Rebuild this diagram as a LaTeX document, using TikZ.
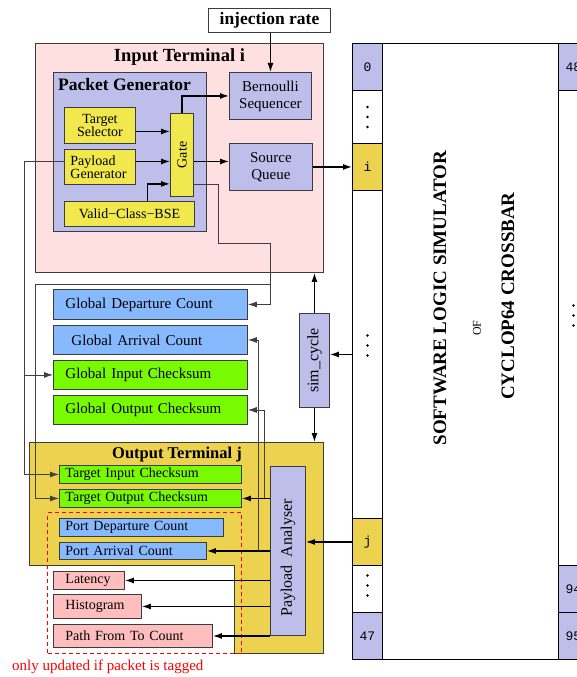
\documentclass[tikz,border=0pt]{standalone}
\usepackage{fontspec}
\setmainfont{Liberation Serif}
\setmonofont{Liberation Mono}
\usepackage{graphicx}
\usetikzlibrary{positioning,arrows.meta,calc}
\definecolor{termpink}{RGB}{255,224,224}
\definecolor{lav}{RGB}{190,190,235}
\definecolor{ylw}{RGB}{240,232,76}
\definecolor{gold}{RGB}{237,210,80}
\definecolor{cntblue}{RGB}{135,185,255}
\definecolor{sumgreen}{RGB}{120,250,0}
\definecolor{pinkbox}{RGB}{255,190,190}
\definecolor{edge}{RGB}{60,60,60}
\newcommand{\fsz}[2]{\fontsize{#1}{#2}\selectfont}
\tikzset{
  blk/.style={draw=edge, line width=0.9pt, inner sep=1pt, anchor=north west},
  ctr/.style={blk, align=center, font=\fsz{14}{11.5}},
  gbox/.style={blk, align=left, inner xsep=12pt, font=\fsz{15}{15}},
  tbox/.style={blk, align=left, inner xsep=6pt, font=\fsz{14}{14}},
  rbox/.style={blk, align=left, inner xsep=12pt, font=\fsz{14}{14}, fill=pinkbox},
  cell/.style={draw=black, line width=0.9pt, minimum width=30pt, inner sep=0pt,
               anchor=north west, font=\ttfamily\fsz{13}{13}},
  ttl/.style={font=\bfseries\fsz{18.5}{19}, inner sep=0pt},
  arr/.style={line width=1.2pt, -{Latex[length=9pt,width=6pt]}},
  wire/.style={draw=black!75, line width=0.8pt},
  wirearr/.style={wire, -{Latex[length=9pt,width=6pt]}},
}

\begin{document}
\begin{tikzpicture}[x=1pt,y=-1pt]
  \useasboundingbox (0,0) rectangle (577,677);
  \clip (0,0) rectangle (577,677);

  \node[blk, fill=white, minimum width=122pt, minimum height=24pt,
        font=\bfseries\fsz{17.5}{18}] (inj) at (208,8) {injection rate};

  \node[blk, fill=termpink, minimum width=288pt, minimum height=229pt] (inT) at (35,43) {};
  \node[ttl, below=5pt of inT.north] (inTtl) {Input Terminal i};
  \node[blk, fill=lav, minimum width=153pt, minimum height=159pt] (pg) at (53,72) {};
  \node[ttl, font=\bfseries\fsz{17.5}{18}, anchor=north west] (pgTtl)
        at ([xshift=5pt,yshift=-6pt]pg.north west) {Packet Generator};
  \node[ctr, fill=lav, minimum width=82pt, minimum height=47pt, font=\fsz{15}{17}] (bern)
        at (229,72) {Bernoulli\\Sequencer};
  \node[ctr, fill=ylw, minimum width=71pt, minimum height=36pt] (ts) at (64,107) {Target\\Selector};
  \node[ctr, fill=ylw, minimum width=71pt, minimum height=35pt, align=left,
        inner xsep=6pt, text width=59pt] (pgen) at (64,149) {Payload\\Generator};
  \node[ctr, fill=ylw, minimum width=23pt, minimum height=83pt] (gate) at (170,113) {\rotatebox{90}{Gate}};
  \node[ctr, fill=ylw, minimum width=130pt, minimum height=25pt] (valid) at (64,201) {Valid−Class−BSE};
  \node[ctr, fill=lav, minimum width=83pt, minimum height=47pt, font=\fsz{15}{17}] (sq)
        at (229,143) {Source\\Queue};

  \node[gbox, fill=cntblue, minimum height=30pt, text width=170pt] (gdep) at (53,289) {Global Departure Count};
  \node[gbox, fill=cntblue, minimum height=29pt, inner xsep=18pt, text width=158pt] (garr) at (53,325) {Global Arrival Count};
  \node[gbox, fill=sumgreen, minimum height=29pt, text width=170pt] (gin) at (53,360) {Global Input Checksum};
  \node[gbox, fill=sumgreen, minimum height=29pt, text width=170pt] (gout) at (53,395) {Global Output Checksum};
  \node[blk, fill=lav, minimum width=30pt, minimum height=94pt, font=\fsz{16}{16}] (sim)
        at (299,313) {\rotatebox{90}{sim\_cycle}};

  \draw[draw=edge, line width=0.9pt, fill=gold] (29,442) coordinate (oT) -- (323,442) -- (323,653)
        -- (234,653) -- (234,565) -- (29,565) -- cycle;
  \node[ttl, font=\bfseries\fsz{16.5}{17}] (outTtl) at (177,455) {Output Terminal j};
  \node[tbox, fill=sumgreen, minimum height=18pt, text width=170pt] (tin) at (59,465) {Target Input Checksum};
  \node[tbox, fill=sumgreen, minimum height=18pt, text width=170pt] (tout) at (59,489) {Target Output Checksum};
  \node[draw=red, dash pattern=on 4pt off 3pt, line width=1pt, minimum width=194pt,
        minimum height=141pt, anchor=north west] (tagd) at (47,512) {};
  \node[tbox, fill=cntblue, minimum height=18pt, text width=152pt] (pdep) at (59,518) {Port Departure Count};
  \node[tbox, fill=cntblue, minimum height=17pt, text width=135pt] (parr) at (59,542) {Port Arrival Count};
  \node[rbox, minimum height=18pt, text width=47pt] (lat) at (53,571) {Latency};
  \node[rbox, minimum height=24pt, text width=64pt] (hist) at (53,594) {Histogram};
  \node[rbox, minimum height=23pt, text width=135pt] (pft) at (53,624) {Path From To Count};
  \node[blk, fill=lav, minimum width=35pt, minimum height=169pt, font=\fsz{16}{16}] (pa)
        at (270,466) {\rotatebox{90}{Payload~~Analyser\hspace{14pt}}};
  \node[text=red, font=\fsz{15}{15}, anchor=west, inner sep=0pt] (tagtxt) at (12,667)
        {only updated if packet is tagged};

  \node[draw=black, line width=0.9pt, minimum width=176pt, minimum height=616pt,
        anchor=north west] (xbar) at (382,43) {};
  \node[cell, fill=lav, minimum height=47pt] (c0) at (352,43) {0};
  \node[cell, fill=white, minimum height=53pt] (cd1) at (352,90) {};
  \node[cell, fill=gold, minimum height=47pt] (ci) at (352,143) {i};
  \node[cell, fill=white, minimum height=328pt] (cmid) at (352,190) {};
  \node[cell, fill=gold, minimum height=47pt] (cj) at (352,518) {j};
  \node[cell, fill=white, minimum height=47pt] (cd2) at (352,565) {};
  \node[cell, fill=lav, minimum height=47pt] (c47) at (352,612) {47};
  \node[cell, fill=lav, minimum height=47pt] (c48) at (558,43) {48};
  \node[cell, fill=white, minimum height=475pt] (rmid) at (558,90) {};
  \node[cell, fill=lav, minimum height=47pt] (c94) at (558,565) {94};
  \node[cell, fill=lav, minimum height=47pt] (c95) at (558,612) {95};
  \foreach \c/\o in {cd1/0,cd2/3.5,cmid/9,rmid/12.5}
    \foreach \d in {-10,0,10}
      \fill ([yshift={(\o+\d)*1pt}]\c.center) circle (1.4pt);
  \node[rotate=90, font=\bfseries\fsz{19}{19}] (xt1) at (440,298) {SOFTWARE LOGIC SIMULATOR};
  \node[rotate=90, font=\fsz{12}{12}] (xt2) at (477,328) {OF};
  \node[rotate=90, font=\bfseries\fsz{19}{19}] (xt3) at (508,296) {CYCLOP64 CROSSBAR};

  \draw[arr] (bern.north |- inj.south) -- (bern.north);
  \draw[arr] ([yshift=-6pt]ts.east) -- ([yshift=-6pt]ts.east -| gate.west);
  \draw[arr] ([yshift=5.5pt]pgen.east) -- ([yshift=5.5pt]pgen.east -| gate.west);
  \draw[arr] ([xshift=18pt]valid.north) |- ([yshift=13pt]gate.south west);
  \draw[arr] (gate.north) |- (bern.west);
  \draw[arr] ([yshift=-6.5pt]gate.east) -- ([yshift=-6.5pt]gate.east -| sq.west);
  \draw[arr] (sq.east) -- (ci.west);
  \draw[wirearr] ([yshift=13pt]gate.south east) -- ++(24,0) |- (270,243) |- (gdep.east);
  \draw[wirearr] (270,284) -| ([xshift=-24pt]tout.west) -- (tout.west);
  \draw[wirearr] ([yshift=5.5pt]pgen.west) -| ([xshift=-35pt]tin.west) -- (tin.west);
  \draw[wirearr] ([xshift=-29pt]gin.west) -- (gin.west);
  \draw[arr] (sim.north) -- (sim.north |- inT.south);
  \draw[arr] (sim.south) -- (sim.south |- oT);
  \draw[arr] (cmid.west) -- (cmid.west -| sim.east);
  \draw[arr] (cj.west) -- (cj.west -| pa.east);
  \draw[arr] (pa.west |- tout.east) -- (tout.east);
  \draw[arr] (pa.west |- parr.east) -- (parr.east);
  \draw[arr] (pa.west |- lat.east) -- (lat.east);
  \draw[arr] (pa.west |- hist.east) -- (hist.east);
  \draw[arr] (pa.west |- pft.east) -- (pft.east);
  \draw[wirearr] ([xshift=-12pt]pa.west |- parr.east) |- (garr.east);
  \draw[wirearr] ([xshift=-6pt]pa.west |- tout.east) |- (gout.east);
\end{tikzpicture}
\end{document}
